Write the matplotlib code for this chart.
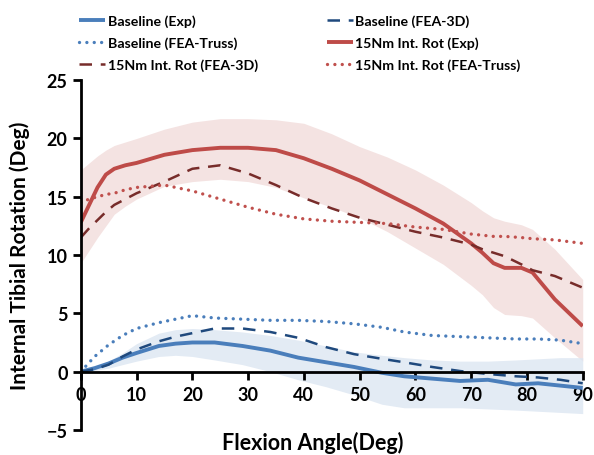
import matplotlib
matplotlib.use('Agg')
import matplotlib.pyplot as plt

plt.rcParams['font.family'] = ['Lato', 'DejaVu Sans']
plt.rcParams['font.weight'] = 'bold'

# baseline
base_x = [0, 2.5, 5, 7.5, 10, 14, 17, 20, 24, 29, 34, 39, 44, 49, 54, 58, 63, 68, 73, 78, 82, 86, 90]
base_exp = [0, 0.3, 0.7, 1.2, 1.6, 2.2, 2.4, 2.5, 2.5, 2.2, 1.8, 1.2, 0.8, 0.4, -0.1, -0.4, -0.6, -0.8, -0.7, -1.1, -1.0, -1.2, -1.4]
base_up = [0, 0.4, 0.9, 1.6, 2.4, 3.3, 3.6, 3.7, 3.6, 3.4, 3.1, 2.7, 2.2, 1.7, 1.4, 1.2, 1.0, 0.9, 0.9, 1.0, 1.1, 1.2, 1.2]
base_lo = [0, 0.1, 0.3, 0.6, 0.9, 1.3, 1.4, 1.3, 1.0, 0.6, 0.0, -0.7, -1.3, -2.0, -2.8, -3.1, -3.1, -3.1, -3.2, -3.3, -3.4, -3.5, -3.6]
base_3d = [0, 0.2, 0.6, 1.3, 1.9, 2.6, 3.0, 3.3, 3.7, 3.7, 3.4, 2.9, 2.1, 1.5, 1.1, 0.8, 0.4, 0.05, -0.2, -0.4, -0.5, -0.7, -1.0]
base_truss = [0, 1.3, 2.3, 3.1, 3.7, 4.2, 4.5, 4.8, 4.6, 4.5, 4.4, 4.4, 4.3, 4.1, 3.8, 3.4, 3.1, 3.0, 2.9, 2.8, 2.8, 2.7, 2.4]

# 15Nm internal rotation
rot_x = [0, 1.5, 3, 4.5, 6, 8, 10, 15, 20, 25, 30, 35, 40, 45, 50, 55, 60, 65, 70, 72, 74, 76, 79, 81, 85, 90]
rot_exp = [12.8, 14.3, 15.8, 16.9, 17.4, 17.7, 17.9, 18.6, 19.0, 19.2, 19.2, 19.0, 18.3, 17.4, 16.4, 15.2, 14.0, 12.7, 11.0, 10.2, 9.3, 8.9, 8.9, 8.5, 6.2, 3.9]
rot_up = [17.3, 17.9, 18.5, 19.0, 19.4, 19.7, 20.0, 20.8, 21.4, 21.7, 21.7, 21.6, 21.3, 20.4, 19.3, 18.4, 17.3, 16.0, 14.5, 13.8, 13.2, 12.9, 12.6, 12.2, 10.5, 7.9]
rot_lo = [9.3, 10.4, 11.5, 12.5, 13.5, 14.2, 14.8, 15.9, 16.3, 16.5, 16.3, 15.8, 14.9, 14.1, 13.2, 12.0, 10.6, 9.2, 7.4, 6.6, 5.5, 4.9, 4.8, 4.6, 2.9, 0.9]
rot_3d = [11.5, 12.3, 13.0, 13.7, 14.3, 14.8, 15.3, 16.3, 17.4, 17.7, 17.0, 16.0, 14.9, 14.0, 13.2, 12.6, 12.0, 11.5, 10.9, 10.5, 10.2, 9.9, 9.2, 8.7, 8.2, 7.2]
rot_truss = [14.5, 14.8, 15.0, 15.2, 15.3, 15.6, 15.8, 16.0, 15.5, 14.8, 14.1, 13.5, 13.1, 12.9, 12.8, 12.7, 12.4, 12.2, 11.8, 11.7, 11.6, 11.6, 11.5, 11.4, 11.3, 11.0]

fig = plt.figure(figsize=(5.94, 4.56), dpi=100)
ax = fig.add_axes([0.136, 0.055, 0.845, 0.767])

ax.fill_between(rot_x, rot_lo, rot_up, color='#F2DCDB', alpha=0.8, lw=0)
ax.fill_between(base_x, base_lo, base_up, color='#DCE6F2', alpha=0.8, lw=0)

l1, = ax.plot(base_x, base_exp, color='#4A7EBB', lw=2.8, solid_capstyle='butt', solid_joinstyle='round')
l2, = ax.plot(base_x, base_3d, color='#1F497D', lw=1.8, dashes=(5, 3.5))
l3, = ax.plot(base_x, base_truss, color='#4A7EBB', lw=2.4, dashes=(0.01, 2.2), dash_capstyle='round')
l4, = ax.plot(rot_x, rot_exp, color='#BE4B48', lw=2.8, solid_capstyle='butt', solid_joinstyle='round')
l5, = ax.plot(rot_x, rot_3d, color='#772C2A', lw=1.8, dashes=(5, 3.5))
l6, = ax.plot(rot_x, rot_truss, color='#C0504D', lw=2.4, dashes=(0.01, 2.2), dash_capstyle='round')

ax.set_xlim(0, 90)
ax.set_ylim(-5, 25)
ax.set_xticks(range(0, 91, 10))
ax.set_yticks(range(-5, 26, 5))
ax.spines['top'].set_visible(False)
ax.spines['right'].set_visible(False)
ax.spines['bottom'].set_position(('data', 0))
ax.spines['bottom'].set_linewidth(2)
ax.spines['left'].set_linewidth(2)
ax.tick_params(axis='both', direction='out', length=6, width=2, labelsize=13)
ax.tick_params(axis='x', pad=4)
for lab in ax.get_xticklabels() + ax.get_yticklabels():
    lab.set_fontweight('bold')

ax.set_ylabel('Internal Tibial Rotation (Deg)', fontsize=15, fontweight='bold', labelpad=12)
fig.text(0.526, 0.004, 'Flexion Angle(Deg)', fontsize=15.5, fontweight='bold', ha='center', va='bottom')

# legend is filled row by row in the reference
fig.legend([l1, l3, l5, l2, l4, l6],
           ['Baseline (Exp)', 'Baseline (FEA-Truss)', '15Nm Int. Rot (FEA-3D)',
            'Baseline (FEA-3D)', '15Nm Int. Rot (Exp)', '15Nm Int. Rot (FEA-Truss)'],
           ncol=2, loc='upper left', bbox_to_anchor=(0.112, 0.995), frameon=False,
           prop={'size': 10.2, 'weight': 'bold'}, handlelength=1.8, handletextpad=0.2,
           columnspacing=4.9, labelspacing=0.66)

fig.savefig('out.png', dpi=100)
